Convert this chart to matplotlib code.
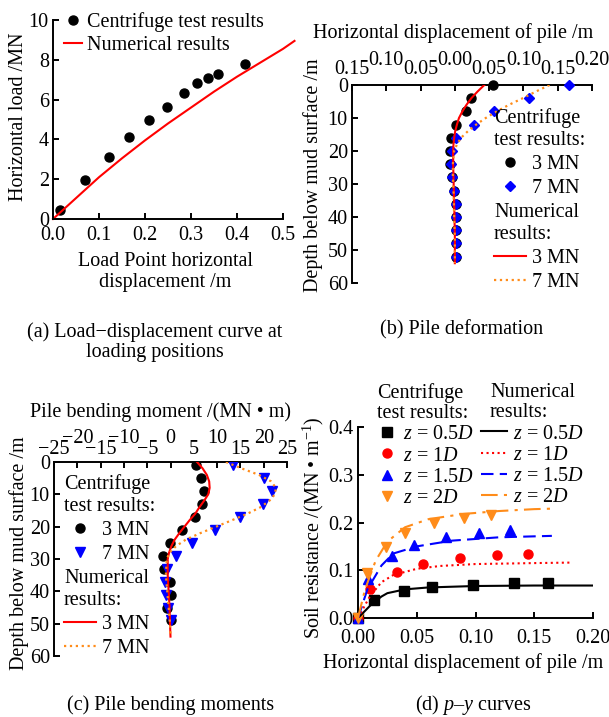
import numpy as np
import matplotlib
matplotlib.use("Agg")
import matplotlib.pyplot as plt
from matplotlib.ticker import FixedLocator, FixedFormatter
from matplotlib.lines import Line2D
from matplotlib.legend import Legend

FS = 14.5
plt.rcParams['font.family'] = ['Liberation Serif', 'DejaVu Serif']
plt.rcParams['mathtext.fontset'] = 'custom'
plt.rcParams['mathtext.rm'] = 'Liberation Serif'
plt.rcParams['mathtext.it'] = 'Liberation Serif:italic'
plt.rcParams['font.size'] = FS
plt.rcParams['axes.linewidth'] = 1.4

RED = '#ff0000'
ORANGE = '#ff8c1a'
BLUE = '#0000ff'

# (a) load-displacement at loading point
a_test_x = [0.015, 0.069, 0.122, 0.165, 0.208, 0.248, 0.284, 0.314, 0.337, 0.358, 0.418]
a_test_y = [0.43, 1.94, 3.14, 4.11, 4.95, 5.65, 6.35, 6.82, 7.07, 7.28, 7.8]
a_num_x = [0, 0.05, 0.1, 0.15, 0.2, 0.25, 0.3, 0.35, 0.4, 0.45, 0.5, 0.525]
a_num_y = [0, 1.05, 2.1, 3.05, 3.95, 4.8, 5.6, 6.4, 7.15, 7.85, 8.55, 8.95]

# (b) pile deformation
b_depth = [0, 4, 8, 12, 16, 20, 24, 28, 32, 36, 40, 44, 48, 52]
b_test_3 = [0.055, 0.0235, 0.016, 0.002, -0.0055, -0.007, -0.0065, -0.004, -0.0015, 0.001, 0.001, 0.001, 0.002, 0.002]
b_test_7 = [0.166, 0.1085, 0.057, 0.0285, 0.001, -0.004, -0.0055, -0.004, -0.0015, 0.001, 0.001, 0.001, 0.001, 0.001]
b_num_depth = [0, 2, 4, 6, 8, 10, 12, 14, 16, 18, 20, 24, 28, 32, 36, 40, 46, 54]
b_num_3 = [0.043, 0.033, 0.024, 0.017, 0.011, 0.006, 0.003, 0.0005, -0.001, -0.002, -0.0025,
           -0.0025, -0.002, -0.0015, -0.001, -0.0005, 0.0, 0.0]
b_num_7 = [0.138, 0.118, 0.099, 0.079, 0.061, 0.045, 0.031, 0.019, 0.009, 0.003, -0.001,
           -0.003, -0.003, -0.002, -0.0015, -0.001, 0.0, 0.0]

# (c) bending moments
c_depth = [1, 5, 9, 13, 17, 21, 25, 29, 33, 37, 41, 45, 49]
c_test_3 = [5.4, 6.6, 7.1, 6.7, 5.3, 2.4, -0.2, -1.6, -1.3, -0.2, 0.0, -0.7, 0.2]
c_test_7 = [13.4, 20.0, 21.8, 19.8, 14.9, 9.6, 4.6, 1.1, -0.7, -1.1, -0.9, -0.6, 0.1]
c_num_depth = [0, 2, 4, 6, 8, 10, 12, 14, 16, 18, 20, 22, 24, 26, 28, 30, 35, 40, 45, 50, 54]
c_num_3 = [5.7, 6.9, 7.8, 8.3, 8.4, 8.1, 7.2, 6.2, 5.3, 4.1, 3.0, 1.9, 0.9, 0.2, -0.3, -0.6,
           -0.6, -0.4, -0.2, -0.1, 0.0]
c_num_7 = [11.9, 15.3, 19.0, 21.6, 22.6, 22.4, 21.2, 19.3, 16.5, 13.2, 9.8, 6.4, 3.3, 1.2, -0.2,
           -0.8, -1.0, -0.7, -0.4, -0.1, 0.0]

# (d) p-y curves
d_labels = ['$z$ = 0.5$D$', '$z$ = 1$D$', '$z$ = 1.5$D$', '$z$ = 2$D$']
d_test_x = [
    [0, 0.0134, 0.039, 0.063, 0.098, 0.133, 0.162],
    [0, 0.0106, 0.033, 0.055, 0.087, 0.118, 0.145],
    [0, 0.0086, 0.0286, 0.048, 0.075, 0.103, 0.129],
    [0, 0.0077, 0.024, 0.040, 0.065, 0.090, 0.113],
]
d_test_y = [
    [0, 0.037, 0.056, 0.065, 0.070, 0.073, 0.074],
    [0, 0.061, 0.096, 0.113, 0.125, 0.131, 0.135],
    [0, 0.082, 0.129, 0.152, 0.169, 0.179, 0.184],
    [0, 0.094, 0.148, 0.177, 0.198, 0.209, 0.216],
]
d_num_x = [
    [0, 0.006, 0.012, 0.02, 0.025, 0.04, 0.06, 0.1, 0.15, 0.2],
    [0, 0.01, 0.02, 0.03, 0.05, 0.07, 0.1, 0.15, 0.18],
    [0, 0.008, 0.02, 0.03, 0.05, 0.08, 0.12, 0.165],
    [0, 0.006, 0.015, 0.025, 0.04, 0.06, 0.09, 0.12, 0.15, 0.165],
]
d_num_y = [
    [0, 0.015, 0.03, 0.045, 0.052, 0.06, 0.064, 0.067, 0.068, 0.068],
    [0, 0.045, 0.075, 0.09, 0.103, 0.109, 0.113, 0.115, 0.116],
    [0, 0.06, 0.11, 0.135, 0.15, 0.162, 0.169, 0.172],
    [0, 0.06, 0.12, 0.16, 0.19, 0.207, 0.218, 0.224, 0.228, 0.229],
]
d_colors = ['black', RED, BLUE, ORANGE]
d_markers = ['s', 'o', '^', 'v']
d_styles = ['-', ':', (0, (6, 3)), (0, (8, 3, 1.5, 3))]

W, H = 609, 717
fig = plt.figure(figsize=(W / 100, H / 100), dpi=100)


def rect(l, t, r, b):
    return [l / W, 1 - b / H, (r - l) / W, (b - t) / H]


def ftext(x, y, s, **kw):
    kw.setdefault('ha', 'center')
    kw.setdefault('va', 'center')
    fig.text(x / W, 1 - y / H, s, **kw)


def stagger_top(ax, low, low_lab, high, high_lab, pad_low, pad_high):
    ax.xaxis.set_major_locator(FixedLocator(low))
    ax.xaxis.set_major_formatter(FixedFormatter(low_lab))
    ax.xaxis.set_minor_locator(FixedLocator(high))
    ax.xaxis.set_minor_formatter(FixedFormatter(high_lab))
    ax.tick_params(axis='x', which='major', pad=pad_low)
    ax.tick_params(axis='x', which='minor', pad=pad_high, length=4, width=1.4, labelsize=FS)


def legend_at(ax, handles, labels, title, x, y, align='left', hl=1.6, ls=0.25, tls=1.2):
    leg = Legend(ax, handles, labels, title=title, loc='upper left',
                 bbox_to_anchor=(x / W, 1 - y / H), bbox_transform=fig.transFigure,
                 frameon=False, borderpad=0, borderaxespad=0, handlelength=hl,
                 handletextpad=0.3, labelspacing=ls, alignment=align,
                 fontsize=FS, title_fontsize=FS)
    leg.get_title().set_linespacing(tls)
    ax.add_artist(leg)
    return leg


# ---------- (a)
ax = fig.add_axes(rect(53, 20, 283, 219))
p1, = ax.plot(a_test_x, a_test_y, 'o', color='black', ms=6.5, clip_on=False)
l1, = ax.plot(a_num_x, a_num_y, '-', color=RED, lw=1.5, clip_on=False)
ax.set_xlim(0, 0.5)
ax.set_ylim(0, 10)
ax.set_xticks([0, 0.1, 0.2, 0.3, 0.4, 0.5])
ax.set_xticklabels(['0.0', '0.1', '0.2', '0.3', '0.4', '0.5'])
ax.set_yticks([0, 2, 4, 6, 8, 10])
ax.spines[['top', 'right']].set_visible(False)
ax.tick_params(direction='in', length=4, width=1.4)
ax.tick_params(axis='x', pad=5)
ax.tick_params(axis='y', pad=3)
leg = Legend(ax, [p1, l1], ['Centrifuge test results', 'Numerical results'], loc='upper left',
             bbox_to_anchor=(64 / W, 1 - 12 / H), bbox_transform=fig.transFigure,
             frameon=False, borderpad=0, borderaxespad=0, handlelength=0.9,
             handletextpad=0.25, labelspacing=0.2, fontsize=FS)
ax.add_artist(leg)
ftext(19, 117, 'Horizontal load /MN', rotation=90)
ftext(165, 272, 'Load Point horizontal\ndisplacement /m', linespacing=1.15)
ftext(155, 342, '(a) Load\u2212displacement curve at\nloading positions', linespacing=1.1)

# ---------- (b)
ax = fig.add_axes(rect(352, 85, 592, 283))
ax.plot(b_test_3, b_depth, 'o', color='black', ms=6.5, clip_on=False, zorder=3)
ax.plot(b_test_7, b_depth, 'D', color=BLUE, ms=5, clip_on=False, zorder=3)
ax.plot(b_num_3, b_num_depth, '-', color=RED, lw=1.5, zorder=4)
ax.plot(b_num_7, b_num_depth, ':', color=ORANGE, lw=1.6, zorder=4)
ax.set_xlim(-0.15, 0.20)
ax.set_ylim(60, 0)
ax.xaxis.tick_top()
ax.spines[['bottom', 'right']].set_visible(False)
ax.tick_params(direction='in', length=4, width=1.4, which='both')
stagger_top(ax, [-0.15, -0.05, 0.05, 0.15], ['0.15', '0.05', '0.05', '0.15'],
            [-0.10, 0.0, 0.10, 0.20], ['0.10', '0.00', '0.10', '0.20'], 4, 11)
ax.set_yticks([0, 10, 20, 30, 40, 50, 60])
ax.tick_params(axis='y', pad=3)
h_t = [Line2D([], [], ls='', marker='o', color='black', ms=6.5),
       Line2D([], [], ls='', marker='D', color=BLUE, ms=5)]
h_n = [Line2D([], [], color=RED, lw=1.5), Line2D([], [], ls=':', color=ORANGE, lw=1.6)]
legend_at(ax, h_t, ['3 MN', '7 MN'], 'Centrifuge\ntest results:', 494, 108)
legend_at(ax, h_n, ['3 MN', '7 MN'], 'Numerical\nresults:', 494, 203)
ftext(453, 33, 'Horizontal displacement of pile /m')
ftext(313, 175, 'Depth below mud surface /m', rotation=90)
ftext(462, 330, '(b) Pile deformation')

# ---------- (c)
ax = fig.add_axes(rect(54, 462, 287, 656))
ax.plot(c_test_3, c_depth, 'o', color='black', ms=6.5, zorder=3)
ax.plot(c_test_7, c_depth, 'v', color=BLUE, ms=6.5, zorder=3)
ax.plot(c_num_3, c_num_depth, '-', color=RED, lw=1.5, zorder=4)
ax.plot(c_num_7, c_num_depth, ':', color=ORANGE, lw=1.6, zorder=4)
ax.set_xlim(-25, 25)
ax.set_ylim(60, 0)
ax.xaxis.tick_top()
ax.spines[['bottom', 'right']].set_visible(False)
ax.tick_params(direction='in', length=4, width=1.4, which='both')
stagger_top(ax, [-25, -15, -5, 5, 15, 25], ['\u221225', '\u221215', '\u22125', '5', '15', '25'],
            [-20, -10, 0, 10, 20], ['\u221220', '\u221210', '0', '10', '20'], 2, 10)
ax.set_yticks([0, 10, 20, 30, 40, 50, 60])
ax.tick_params(axis='y', pad=3)
h_t = [Line2D([], [], ls='', marker='o', color='black', ms=6.5),
       Line2D([], [], ls='', marker='v', color=BLUE, ms=6.5)]
legend_at(ax, h_t, ['3 MN', '7 MN'], 'Centrifuge\ntest results:', 64, 474)
legend_at(ax, h_n, ['3 MN', '7 MN'], 'Numerical\nresults:', 64, 569)
ftext(161, 412, 'Pile bending moment /(MN \u2022 m)')
ftext(19, 553, 'Depth below mud surface /m', rotation=90)
ftext(171, 705, '(c) Pile bending moments')

# ---------- (d)
ax = fig.add_axes(rect(358, 427, 593, 618))
h_t, h_n = [], []
for i in range(4):
    p, = ax.plot(d_test_x[i], d_test_y[i], ls='', marker=d_markers[i], color=d_colors[i],
                 ms=6.5, clip_on=False, zorder=3)
    l, = ax.plot(d_num_x[i], d_num_y[i], ls=d_styles[i], color=d_colors[i], lw=1.5, zorder=4)
    h_t.append(p)
    h_n.append(l)
ax.set_xlim(0, 0.2)
ax.set_ylim(0, 0.4)
ax.set_xticks([0, 0.05, 0.10, 0.15, 0.20])
ax.set_xticklabels(['0.00', '0.05', '0.10', '0.15', '0.20'])
ax.set_yticks([0, 0.1, 0.2, 0.3, 0.4])
ax.set_yticklabels(['0.0', '0.1', '0.2', '0.3', '0.4'])
ax.spines[['top', 'right']].set_visible(False)
ax.tick_params(direction='in', length=4, width=1.4)
ax.tick_params(axis='x', pad=8)
ax.tick_params(axis='y', pad=3)
legend_at(ax, h_t, d_labels, 'Centrifuge\ntest results:', 377, 383, hl=1.0, ls=0.1, tls=1.1)
legend_at(ax, h_n, d_labels, 'Numerical\nresults:', 481, 383, align='center', hl=1.3, ls=0.1, tls=1.1)
ftext(313, 528, 'Soil resistance /(MN \u2022 m$^{\u22121}$)', rotation=90)
ftext(463, 663, 'Horizontal displacement of pile /m')
ftext(473, 705, '(d) $p$\u2013$y$ curves')

fig.savefig('out.png', dpi=100)
